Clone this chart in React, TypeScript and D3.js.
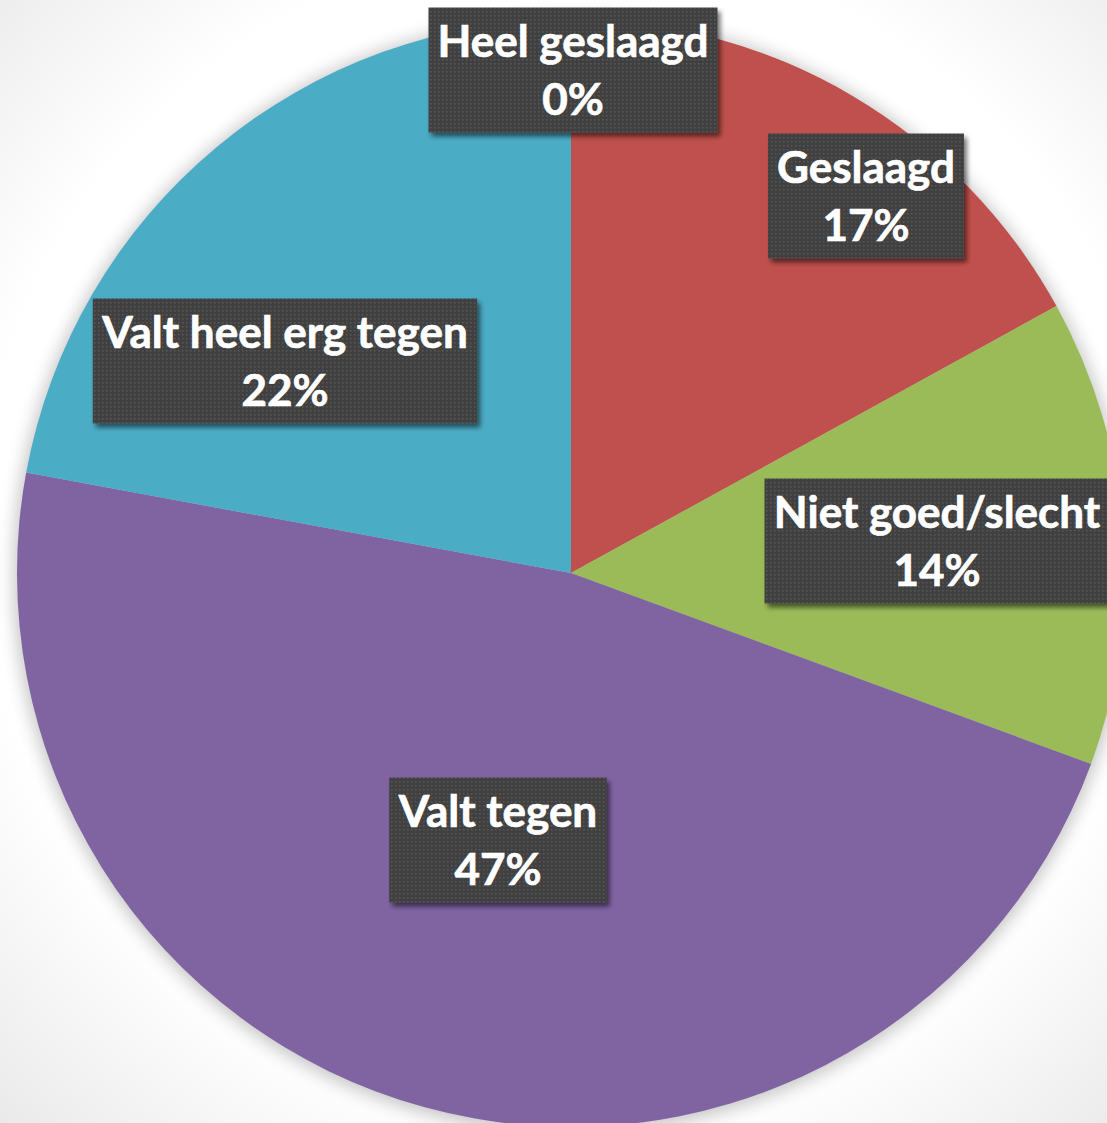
import React, { useEffect, useRef } from "react";
import * as d3 from "d3";

const categories = ["Heel geslaagd", "Geslaagd", "Niet goed/slecht", "Valt tegen", "Valt heel erg tegen"];
const values = [0, 17.0, 13.6, 47.3, 22.1];
const colors = ["#4F81BD", "#C0504D", "#9BBB59", "#8064A2", "#4BACC6"];
// label box centres (layout)
const labelCenters: [number, number][] = [
  [573, 70],
  [866, 196],
  [937, 541],
  [498, 840],
  [285, 361],
];

const W = 1107;
const H = 1123;
const CX = 571;
const CY = 573;
const R = 554;

export default function App() {
  const ref = useRef<SVGSVGElement>(null);

  useEffect(() => {
    const svg = d3.select(ref.current);
    svg.selectAll("*").remove();
    const defs = svg.append("defs");

    const bg = defs
      .append("radialGradient")
      .attr("id", "bg")
      .attr("gradientUnits", "userSpaceOnUse")
      .attr("cx", CX)
      .attr("cy", CY - 40)
      .attr("r", 840);
    bg.append("stop").attr("offset", "0.7").attr("stop-color", "#ffffff");
    bg.append("stop").attr("offset", "1").attr("stop-color", "#e8e8e8");

    const sh = defs
      .append("filter")
      .attr("id", "pieShadow")
      .attr("x", "-20%")
      .attr("y", "-20%")
      .attr("width", "140%")
      .attr("height", "140%");
    sh.append("feGaussianBlur").attr("stdDeviation", 9);

    const bs = defs
      .append("filter")
      .attr("id", "boxShadow")
      .attr("x", "-20%")
      .attr("y", "-20%")
      .attr("width", "140%")
      .attr("height", "140%");
    bs.append("feGaussianBlur").attr("in", "SourceAlpha").attr("stdDeviation", 2.5).attr("result", "b");
    bs.append("feOffset").attr("in", "b").attr("dx", 3).attr("dy", 4).attr("result", "o");
    bs.append("feComponentTransfer")
      .attr("in", "o")
      .attr("result", "o2")
      .append("feFuncA")
      .attr("type", "linear")
      .attr("slope", 0.55);
    const m = bs.append("feMerge");
    m.append("feMergeNode").attr("in", "o2");
    m.append("feMergeNode").attr("in", "SourceGraphic");

    const pat = defs
      .append("pattern")
      .attr("id", "dots")
      .attr("patternUnits", "userSpaceOnUse")
      .attr("width", 4)
      .attr("height", 4);
    pat.append("rect").attr("width", 4).attr("height", 4).attr("fill", "#404040");
    pat.append("rect").attr("x", 1).attr("y", 1).attr("width", 1.5).attr("height", 1.5).attr("fill", "#595959");

    svg.append("rect").attr("width", W).attr("height", H).attr("fill", "url(#bg)");

    svg
      .append("circle")
      .attr("cx", CX)
      .attr("cy", CY + 2)
      .attr("r", R + 3)
      .attr("fill", "#000")
      .attr("opacity", 0.24)
      .attr("filter", "url(#pieShadow)");

    const pie = d3
      .pie<number>()
      .sort(null)
      .value((d) => d);
    const arcs = pie(values);
    const arc = d3.arc<d3.PieArcDatum<number>>().innerRadius(0).outerRadius(R);

    const g = svg.append("g").attr("transform", `translate(${CX},${CY})`);
    g.selectAll("path")
      .data(arcs)
      .join("path")
      .attr("d", arc)
      .attr("fill", (_, i) => colors[i]);

    const total = d3.sum(values);
    const fmt = d3.format(".0%");
    const lg = svg.append("g");
    arcs.forEach((a, i) => {
      const [lx, ly] = labelCenters[i];
      const grp = lg.append("g").attr("transform", `translate(${lx},${ly})`);
      const rect = grp.append("rect").attr("fill", "url(#dots)").attr("filter", "url(#boxShadow)");
      const t = grp
        .append("text")
        .attr("text-anchor", "middle")
        .attr("fill", "#ffffff")
        .attr("stroke", "#ffffff")
        .attr("stroke-width", 0.7)
        .attr("font-family", "Lato, 'Open Sans', sans-serif")
        .attr("font-weight", 700)
        .attr("font-size", 44);
      t.append("tspan").attr("x", 0).attr("y", -13).text(categories[i]);
      t.append("tspan").attr("x", 0).attr("y", 45).text(fmt(values[i] / total));
      const bb = (t.node() as SVGTextElement).getBBox();
      const w = bb.width + 18;
      const h = 125;
      rect.attr("x", -w / 2).attr("y", -h / 2).attr("width", w).attr("height", h);
    });
  }, []);

  return (
    <div style={{ position: "absolute", left: 0, top: 0 }}>
      <svg ref={ref} width={W} height={H} style={{ display: "block" }} />
    </div>
  );
}
